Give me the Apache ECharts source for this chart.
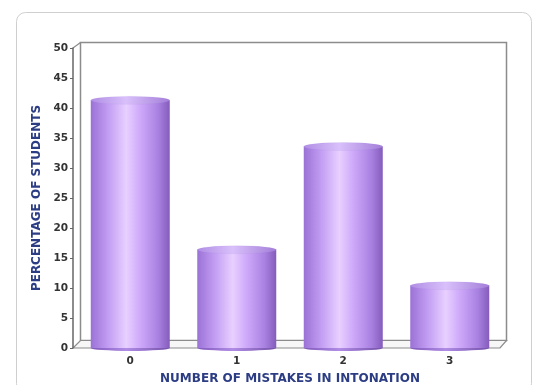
<!DOCTYPE html>
<html>
<head>
<meta charset="utf-8">
<script src="https://cdn.jsdelivr.net/npm/echarts@6/dist/echarts.min.js"></script>
<style>
html,body{margin:0;padding:0;background:#fff;}
#chart{width:535px;height:385px;}
</style>
</head>
<body>
<div id="chart"></div>
<script>
// Share of students by number of intonation mistakes
const categories = ['0', '1', '2', '3'];
const percentages = [41.3, 16.4, 33.6, 10.4];
const yTicks = [0, 5, 10, 15, 20, 25, 30, 35, 40, 45, 50];

const chart = echarts.init(document.getElementById('chart'));

const BAR_W = 79;
const bodyGradient = new echarts.graphic.LinearGradient(0, 0, 1, 0, [
  { offset: 0, color: '#9a72d6' },
  { offset: 0.22, color: '#c29df2' },
  { offset: 0.45, color: '#e8d0ff' },
  { offset: 0.62, color: '#cfaafa' },
  { offset: 0.85, color: '#a982e2' },
  { offset: 1, color: '#855cbc' }
]);
const topGradient = new echarts.graphic.LinearGradient(0, 0, 1, 0, [
  { offset: 0, color: '#b08de4' },
  { offset: 0.45, color: '#d9c0fb' },
  { offset: 1, color: '#a37ed9' }
]);
const baseGradient = new echarts.graphic.LinearGradient(0, 0, 1, 0, [
  { offset: 0, color: '#8158bb' },
  { offset: 0.45, color: '#b08ce6' },
  { offset: 1, color: '#7450a8' }
]);

const frameColor = '#8c8c8c';
const titleStyle = { color: '#2c3d84', fontFamily: 'DejaVu Sans', fontWeight: 'bold', fontSize: 12 };

chart.setOption({
  backgroundColor: '#fff',
  animation: false,
  graphic: [
    // rounded panel outline
    { type: 'rect', z: -10, shape: { x: 16.5, y: 12.5, width: 515, height: 380, r: 9 },
      style: { fill: '#fff', stroke: '#cfcfcf', lineWidth: 1 } },
    // back wall
    { type: 'rect', z: -5, shape: { x: 80.5, y: 42.5, width: 426, height: 298 },
      style: { fill: '#fff', stroke: frameColor, lineWidth: 1.5 } },
    // left side wall edge
    { type: 'polyline', z: -5, shape: { points: [[73, 48], [80.5, 42.5]] },
      style: { stroke: frameColor, lineWidth: 1.2, fill: null } },
    // floor slab
    { type: 'polygon', z: -4, shape: { points: [[73, 348], [80.5, 340.5], [506.5, 340.5], [500, 348]] },
      style: { fill: '#f7f7f7', stroke: frameColor, lineWidth: 1.2 } }
  ],
  grid: { left: 77, right: 32, top: 48, bottom: 37, outerBoundsMode: 'none' },
  xAxis: {
    type: 'category',
    data: categories,
    name: 'NUMBER OF MISTAKES IN INTONATION',
    nameLocation: 'middle',
    nameGap: 25,
    nameTextStyle: titleStyle,
    axisLine: { show: false },
    axisTick: { show: true, alignWithLabel: true, length: 3, lineStyle: { color: '#555' } },
    axisLabel: { color: '#333', fontFamily: 'DejaVu Sans', fontWeight: 'bold', fontSize: 10.5, margin: 8 }
  },
  yAxis: {
    type: 'value',
    min: yTicks[0],
    max: yTicks[yTicks.length - 1],
    interval: yTicks[1] - yTicks[0],
    offset: 4,
    name: 'PERCENTAGE OF STUDENTS',
    nameLocation: 'middle',
    nameGap: 30,
    nameRotate: 90,
    nameTextStyle: titleStyle,
    axisLine: { show: true, lineStyle: { color: '#666', width: 1.5 } },
    axisTick: { show: true, length: 3, lineStyle: { color: '#666' } },
    axisLabel: { color: '#333', fontFamily: 'DejaVu Sans', fontWeight: 'bold', fontSize: 10.5, margin: 5 },
    splitLine: { show: false }
  },
  series: [
    {
      type: 'bar',
      data: percentages,
      barWidth: BAR_W,
      itemStyle: { color: bodyGradient },
      z: 2
    },
    {
      // rounded base of each cylinder
      type: 'pictorialBar',
      data: percentages,
      symbol: 'circle',
      symbolSize: [BAR_W, 6],
      symbolPosition: 'start',
      symbolOffset: [0, '50%'],
      itemStyle: { color: baseGradient },
      z: 1
    },
    {
      // elliptical top face
      type: 'pictorialBar',
      data: percentages,
      symbol: 'circle',
      symbolSize: [BAR_W, 8],
      symbolPosition: 'end',
      symbolOffset: [0, '-50%'],
      itemStyle: { color: topGradient, borderColor: '#946ecb', borderWidth: 0.8 },
      z: 3
    }
  ]
});
</script>
</body>
</html>
